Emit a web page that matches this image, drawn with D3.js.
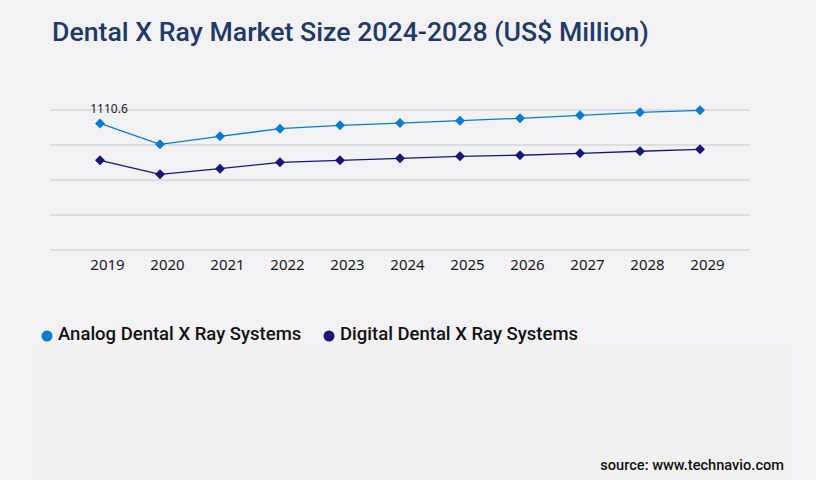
<!DOCTYPE html>
<html>
<head>
<meta charset="utf-8">
<script src="https://cdn.jsdelivr.net/npm/d3@7"></script>
<style>
  body { margin: 0; background: #f2f2f4; }
  svg { display: block; }
</style>
</head>
<body>
<script>
const svgWidth = 816
const svgHeight = 480

const years = ["2019", "2020", "2021", "2022", "2023", "2024", "2025", "2026", "2027", "2028", "2029"]
const analog = [1110.6, 927, 997, 1064, 1094, 1113, 1134, 1155, 1181, 1208, 1225]
const digital = [787, 664, 713, 769, 787, 804, 822, 831, 848, 866, 883]
const seriesNames = ["Analog Dental X Ray Systems", "Digital Dental X Ray Systems"]
const colors = ["#0a7bd2", "#17177a"]

const yMax = 1228

const svg = d3.select("body").append("svg")
  .attr("width", svgWidth)
  .attr("height", svgHeight)

svg.append("rect")
  .attr("width", svgWidth)
  .attr("height", svgHeight)
  .attr("fill", "#f2f2f4")

// faint lower panel
svg.append("rect")
  .attr("x", 31).attr("y", 345)
  .attr("width", 761).attr("height", 135)
  .attr("fill", "#f1f1f2")

svg.append("text")
  .attr("x", 52).attr("y", 41)
  .attr("font-family", "Roboto")
  .attr("font-weight", 500)
  .attr("font-size", 26.7)
  .attr("fill", "#1f3a68")
  .text("Dental X Ray Market Size 2024-2028 (US$ Million)")

const x = d3.scalePoint()
  .domain(years)
  .range([100, 700])

const y = d3.scaleLinear()
  .domain([0, yMax])
  .range([250, 110])

// gridlines
const gridVals = d3.range(5).map(i => yMax * i / 4)
svg.append("g")
  .selectAll("line")
  .data(gridVals)
  .enter()
  .append("line")
  .attr("x1", 50).attr("x2", 750)
  .attr("y1", d => y(d)).attr("y2", d => y(d))
  .attr("stroke", "#c9c9cc")
  .attr("stroke-width", 1)

const xAxis = d3.axisBottom(x).tickSize(0).tickPadding(0)
const axisG = svg.append("g")
  .attr("transform", "translate(7, 259)")
  .call(xAxis)
axisG.select(".domain").remove()
axisG.selectAll("text")
  .attr("font-family", "Noto Sans")
  .attr("font-size", 15)
  .attr("fill", "#1a1a1a")

const line = d3.line()
  .x((d, i) => x(years[i]))
  .y(d => y(d))

const diamond = d3.symbol().type(d3.symbolSquare).size(50)

;[analog, digital].forEach((vals, k) => {
  svg.append("path")
    .datum(vals)
    .attr("d", line)
    .attr("fill", "none")
    .attr("stroke", colors[k])
    .attr("stroke-width", 1.3)

  svg.append("g")
    .selectAll("path")
    .data(vals)
    .enter()
    .append("path")
    .attr("d", diamond)
    .attr("transform", (d, i) => `translate(${x(years[i])}, ${y(d)}) rotate(45)`)
    .attr("fill", colors[k])
})

svg.append("text")
  .attr("x", x(years[0]) + 9)
  .attr("y", y(analog[0]) - 10)
  .attr("text-anchor", "middle")
  .attr("font-family", "Noto Sans")
  .attr("font-size", 12)
  .attr("fill", "#222")
  .text(analog[0])

// legend
const legendPos = [47, 329]
seriesNames.forEach((name, k) => {
  svg.append("circle")
    .attr("cx", legendPos[k]).attr("cy", 336)
    .attr("r", 5.5)
    .attr("fill", colors[k])
  svg.append("text")
    .attr("x", legendPos[k] + 11).attr("y", 340)
    .attr("font-family", "Roboto")
    .attr("font-weight", 500)
    .attr("font-size", 18.5)
    .attr("fill", "#111")
    .text(name)
})

svg.append("text")
  .attr("x", 784).attr("y", 470)
  .attr("text-anchor", "end")
  .attr("font-family", "Roboto")
  .attr("font-weight", 500)
  .attr("font-size", 14.6)
  .attr("fill", "#111")
  .text("source: www.technavio.com")
</script>
</body>
</html>
